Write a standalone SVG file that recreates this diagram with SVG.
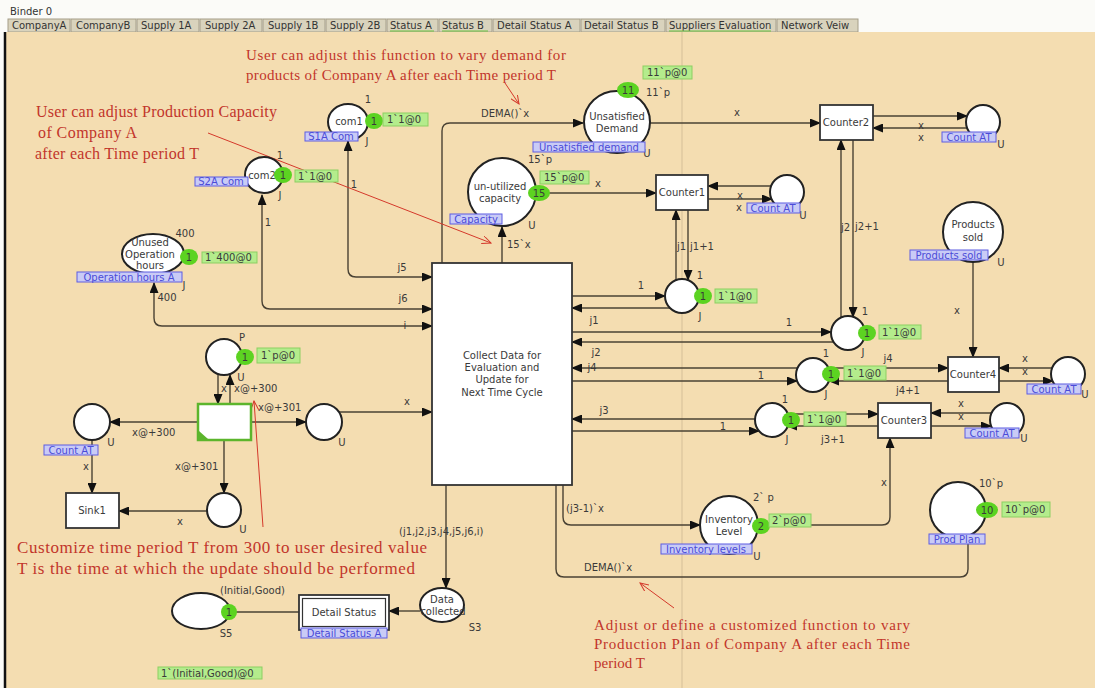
<svg xmlns="http://www.w3.org/2000/svg" width="1095" height="688" viewBox="0 0 1095 688">
<style>
.pl{fill:#fff;stroke:#222;stroke-width:2}
.tr{fill:#fff;stroke:#333;stroke-width:1.8}
.t{font-family:"DejaVu Sans",sans-serif;font-size:10px;fill:#3a3a3a}
.c{text-anchor:middle}
.arc{fill:none;stroke:#4a4234;stroke-width:1.4}
.mk{fill:#b4ec8c;stroke:#8ccf62;stroke-width:1}
.tok{fill:#5cd321}
.nmr{fill:#c9cbf6;stroke:#5d5de2;stroke-width:1}
.nm{font-family:"DejaVu Sans",sans-serif;font-size:10px;fill:#4b4bd8}
.ann{font-family:"Liberation Serif",serif;fill:#c2352b}
.red{fill:none;stroke:#d4392b;stroke-width:1}
.tab{fill:#d9d3bd;stroke:#a59e88;stroke-width:1}
.tabt{font-family:"DejaVu Sans",sans-serif;font-size:10px;fill:#333}
</style>
<defs>
<marker id="ah" markerUnits="userSpaceOnUse" markerWidth="11" markerHeight="9" refX="10" refY="4.5" orient="auto-start-reverse">
<path d="M0,0 L11,4.5 L0,9 z" fill="#111"/>
</marker>
<marker id="ra" markerUnits="userSpaceOnUse" markerWidth="10" markerHeight="8" refX="9" refY="4" orient="auto">
<path d="M0,0 L9,4 L0,8" fill="none" stroke="#d4392b" stroke-width="1"/>
</marker>
</defs>

<!-- window header and tab strip -->
<rect x="0" y="0" width="1095" height="688" fill="#fbfbf8"/>
<text x="10" y="15" class="tabt">Binder 0</text>
<g id="tabs">
<rect class="tab" x="8" y="19" width="62" height="13"/><text class="tabt" x="12" y="29">CompanyA</text>
<rect class="tab" x="71" y="19" width="65" height="13"/><text class="tabt" x="76" y="29">CompanyB</text>
<rect class="tab" x="137" y="19" width="62" height="13"/><text class="tabt" x="141" y="29">Supply 1A</text>
<rect class="tab" x="200" y="19" width="62" height="13"/><text class="tabt" x="205" y="29">Supply 2A</text>
<rect class="tab" x="263" y="19" width="62" height="13"/><text class="tabt" x="268" y="29">Supply 1B</text>
<rect class="tab" x="326" y="19" width="60" height="13"/><text class="tabt" x="330" y="29">Supply 2B</text>
<rect class="tab" x="387" y="19" width="51" height="13" fill="#e6e1cc"/><text class="tabt" x="390" y="29">Status A</text>
<rect class="tab" x="439" y="19" width="53" height="13"/><text class="tabt" x="442" y="29">Status B</text>
<rect class="tab" x="493" y="19" width="87" height="13"/><text class="tabt" x="497" y="29">Detail Status A</text>
<rect class="tab" x="581" y="19" width="84" height="13"/><text class="tabt" x="584" y="29">Detail Status B</text>
<rect class="tab" x="666" y="19" width="110" height="13"/><text class="tabt" x="669" y="29">Suppliers Evaluation</text>
<rect class="tab" x="777" y="19" width="81" height="13"/><text class="tabt" x="781" y="29">Network Veiw</text>
<path d="M390,31 H434 M442,31 H488 M669,31 H771" stroke="#6cc23a" stroke-width="1"/>
</g>

<!-- page canvas -->
<rect x="5" y="32" width="1090" height="656" fill="#f4ddb1"/>
<line x1="5" y1="32" x2="5" y2="688" stroke="#111" stroke-width="2.5"/>
<line x1="682" y1="32" x2="682" y2="688" stroke="#d5bf98" stroke-width="1"/>

<!-- arcs -->
<g id="connectors">
<path class="arc" d="M442,263 V131 Q442,123 450,123 H583" marker-end="url(#ah)"/>
<path class="arc" d="M502,263 V227" marker-end="url(#ah)"/>
<path class="arc" d="M536,193 H656" marker-end="url(#ah)"/>
<path class="arc" d="M650,123 H820" marker-end="url(#ah)"/>
<path class="arc" d="M708,199 H772" marker-end="url(#ah)"/>
<path class="arc" d="M772,186 H708" marker-end="url(#ah)"/>
<path class="arc" d="M873,116 H967" marker-end="url(#ah)"/>
<path class="arc" d="M967,128 H873" marker-end="url(#ah)"/>
<path class="arc" d="M688,210 V280" marker-end="url(#ah)"/>
<path class="arc" d="M676,281 V210" marker-end="url(#ah)"/>
<path class="arc" d="M853,140 V317" marker-end="url(#ah)"/>
<path class="arc" d="M841,318 V140" marker-end="url(#ah)"/>
<path class="arc" d="M572,296 H665" marker-end="url(#ah)"/>
<path class="arc" d="M670,308 H572" marker-end="url(#ah)"/>
<path class="arc" d="M572,332 H831" marker-end="url(#ah)"/>
<path class="arc" d="M834,342 H572" marker-end="url(#ah)"/>
<path class="arc" d="M797,368 H572" marker-end="url(#ah)"/>
<path class="arc" d="M829,368 H948" marker-end="url(#ah)"/>
<path class="arc" d="M572,381 H797" marker-end="url(#ah)"/>
<path class="arc" d="M948,381 H829" marker-end="url(#ah)"/>
<path class="arc" d="M755,419 H572" marker-end="url(#ah)"/>
<path class="arc" d="M572,431 H759" marker-end="url(#ah)"/>
<path class="arc" d="M788,414 H878" marker-end="url(#ah)"/>
<path class="arc" d="M878,426 H787" marker-end="url(#ah)"/>
<path class="arc" d="M973,262 V357" marker-end="url(#ah)"/>
<path class="arc" d="M1052,368 H999" marker-end="url(#ah)"/>
<path class="arc" d="M999,381 H1053" marker-end="url(#ah)"/>
<path class="arc" d="M991,413 H931" marker-end="url(#ah)"/>
<path class="arc" d="M931,426 H991" marker-end="url(#ah)"/>
<path class="arc" d="M758,525 H882 Q890,525 890,517 V438" marker-end="url(#ah)"/>
<path class="arc" d="M563,485 V517 Q563,525 571,525 H700" marker-end="url(#ah)"/>
<path class="arc" d="M968,536 V569 Q968,577 960,577 H564 Q556,577 556,569 V485"/>
<path class="arc" d="M446,485 V588" marker-end="url(#ah)"/>
<path class="arc" d="M420,611 H389" marker-end="url(#ah)"/>
<path class="arc" d="M230,612 H299"/>
<path class="arc" d="M432,277 H356 Q348,277 348,269 V141" marker-start="url(#ah)" marker-end="url(#ah)"/>
<path class="arc" d="M432,309 H270 Q262,309 262,301 V195" marker-start="url(#ah)" marker-end="url(#ah)"/>
<path class="arc" d="M432,326 H162 Q154,326 154,318 V283" marker-start="url(#ah)" marker-end="url(#ah)"/>
<path class="arc" d="M218,375 V404" marker-end="url(#ah)"/>
<path class="arc" d="M230,404 V375" marker-end="url(#ah)"/>
<path class="arc" d="M198,422 H110" marker-end="url(#ah)"/>
<path class="arc" d="M251,422 H306" marker-end="url(#ah)"/>
<path class="arc" d="M339,412 H432" marker-end="url(#ah)"/>
<path class="arc" d="M224,440 V493" marker-end="url(#ah)"/>
<path class="arc" d="M207,511 H119" marker-end="url(#ah)"/>
<path class="arc" d="M92,440 V493" marker-end="url(#ah)"/>

<!-- arc inscriptions -->
<text class="t" x="481" y="117">DEMA()`x</text>
<text class="t" x="507" y="248">15`x</text>
<text class="t c" x="598" y="187">x</text>
<text class="t c" x="737" y="116">x</text>
<text class="t c" x="740" y="199">x</text>
<text class="t c" x="739" y="211">x</text>
<text class="t c" x="921" y="129">x</text>
<text class="t c" x="921" y="141">x</text>
<text class="t" x="677" y="250">j1</text>
<text class="t" x="690" y="250">j1+1</text>
<text class="t" x="841" y="231">j2</text>
<text class="t" x="855" y="230">j2+1</text>
<text class="t c" x="641" y="289">1</text>
<text class="t c" x="594" y="324">j1</text>
<text class="t c" x="789" y="326">1</text>
<text class="t c" x="596" y="356">j2</text>
<text class="t c" x="592" y="371">j4</text>
<text class="t c" x="761" y="379">1</text>
<text class="t c" x="604" y="414">j3</text>
<text class="t c" x="723" y="430">1</text>
<text class="t c" x="888" y="362">j4</text>
<text class="t c" x="908" y="394">j4+1</text>
<text class="t c" x="833" y="443">j3+1</text>
<text class="t c" x="1025" y="362">x</text>
<text class="t c" x="1025" y="375">x</text>
<text class="t c" x="961" y="407">x</text>
<text class="t c" x="961" y="420">x</text>
<text class="t c" x="957" y="314">x</text>
<text class="t c" x="884" y="486">x</text>
<text class="t" x="566" y="512">(j3-1)`x</text>
<text class="t" x="584" y="571">DEMA()`x</text>
<text class="t" x="399" y="535">(j1,j2,j3,j4,j5,j6,i)</text>
<text class="t c" x="354" y="188">1</text>
<text class="t c" x="402" y="271">j5</text>
<text class="t c" x="268" y="226">1</text>
<text class="t c" x="403" y="302">j6</text>
<text class="t c" x="167" y="301">400</text>
<text class="t c" x="405" y="329">i</text>
<text class="t c" x="224" y="392">x</text>
<text class="t" x="234" y="392">x@+300</text>
<text class="t" x="132" y="436">x@+300</text>
<text class="t" x="258" y="411">x@+301</text>
<text class="t" x="175" y="470">x@+301</text>
<text class="t c" x="180" y="525">x</text>
<text class="t c" x="86" y="470">x</text>
<text class="t c" x="407" y="405">x</text>
</g>

<!-- notes -->
<g id="notes">
<text class="ann" font-size="15" x="246" y="60" textLength="320" lengthAdjust="spacing">User can adjust this function to vary demand for</text>
<text class="ann" font-size="15" x="246" y="80" textLength="310" lengthAdjust="spacing">products of Company A after each Time period T</text>
<line class="red" x1="505" y1="83" x2="519" y2="104" marker-end="url(#ra)"/>
<text class="ann" font-size="16" x="36" y="117" textLength="241" lengthAdjust="spacing">User can adjust Production Capacity</text>
<text class="ann" font-size="16" x="38" y="138" textLength="99" lengthAdjust="spacing">of Company A</text>
<text class="ann" font-size="16" x="35" y="159" textLength="164" lengthAdjust="spacing">after each Time period T</text>
<line class="red" x1="208" y1="133" x2="491" y2="243" marker-end="url(#ra)"/>
<text class="ann" font-size="17" x="17" y="553" textLength="410" lengthAdjust="spacing">Customize time period T from 300 to user desired value</text>
<text class="ann" font-size="17" x="17" y="574" textLength="398" lengthAdjust="spacing">T is the time at which the update should be performed</text>
<line class="red" x1="263" y1="527" x2="254" y2="401" marker-end="url(#ra)"/>
<text class="ann" font-size="15" x="594" y="630" textLength="316" lengthAdjust="spacing">Adjust or define a customized function to vary</text>
<text class="ann" font-size="15" x="594" y="649" textLength="316" lengthAdjust="spacing">Production Plan of Company A after each Time</text>
<text class="ann" font-size="15" x="594" y="668">period T</text>
<line class="red" x1="674" y1="608" x2="640" y2="583" marker-end="url(#ra)"/>
</g>

<!-- transitions -->
<g id="collect-data">
<rect class="tr" x="432" y="263" width="140" height="222"/>
<text class="t c" x="502" y="359">Collect Data for</text>
<text class="t c" x="502" y="371">Evaluation and</text>
<text class="t c" x="502" y="383">Update for</text>
<text class="t c" x="502" y="396">Next Time Cycle</text>
</g>
<g id="counter1"><rect class="tr" x="656" y="175" width="52" height="35"/><text class="t c" x="682" y="196">Counter1</text></g>
<g id="counter2"><rect class="tr" x="820" y="105" width="53" height="35"/><text class="t c" x="846" y="126">Counter2</text></g>
<g id="counter4"><rect class="tr" x="948" y="357" width="51" height="35"/><text class="t c" x="973" y="378">Counter4</text></g>
<g id="counter3"><rect class="tr" x="878" y="403" width="53" height="35"/><text class="t c" x="904" y="424">Counter3</text></g>
<g id="sink1"><rect class="tr" x="66" y="493" width="53" height="35"/><text class="t c" x="92" y="514">Sink1</text></g>
<g id="timer">
<rect x="198" y="404" width="53" height="36" fill="#fff" stroke="#5cb52c" stroke-width="2.5"/>
<path d="M199,431 L199,439 L208,439 z" fill="#5cb52c"/>
</g>
<g id="detail-status">
<rect class="tr" x="299" y="595" width="90" height="35"/>
<rect x="302.5" y="598.5" width="83" height="28" fill="none" stroke="#333" stroke-width="1.2"/>
<text class="t c" x="344" y="616">Detail Status</text>
<rect class="nmr" x="301" y="628" width="86" height="10"/><text class="nm c" x="344" y="637">Detail Status A</text>
</g>

<!-- places -->
<g id="com1">
<ellipse class="pl" cx="348" cy="122" rx="20" ry="18"/>
<text class="t c" x="349" y="125">com1</text>
<text class="t c" x="368" y="103">1</text>
<text class="t c" x="367" y="145">J</text>
<rect class="nmr" x="305" y="132" width="53" height="9"/><text class="nm c" x="331" y="140">S1A Com</text>
<ellipse class="tok" cx="374" cy="121" rx="9" ry="8"/><text class="t c" x="374" y="125">1</text>
<rect class="mk" x="383" y="113" width="45" height="13"/><text class="t" x="387" y="123">1`1@0</text>
</g>
<g id="com2">
<ellipse class="pl" cx="264" cy="175" rx="19" ry="18"/>
<text class="t c" x="262" y="179">com2</text>
<text class="t c" x="280" y="159">1</text>
<text class="t c" x="280" y="199">J</text>
<rect class="nmr" x="195" y="177" width="53" height="9"/><text class="nm c" x="221" y="185">S2A Com</text>
<ellipse class="tok" cx="283" cy="175" rx="9" ry="8"/><text class="t c" x="283" y="179">1</text>
<rect class="mk" x="295" y="170" width="43" height="12"/><text class="t" x="298" y="180">1`1@0</text>
</g>
<g id="unused-hours">
<ellipse class="pl" cx="153" cy="254" rx="31" ry="20"/>
<text class="t c" x="150" y="246">Unused</text>
<text class="t c" x="150" y="258">Operation</text>
<text class="t c" x="150" y="269" font-size="9">hours</text>
<text class="t c" x="185" y="237">400</text>
<text class="t c" x="184" y="289">J</text>
<rect class="nmr" x="77" y="272" width="105" height="10"/><text class="nm c" x="129" y="281">Operation hours A</text>
<ellipse class="tok" cx="189" cy="257" rx="9" ry="8"/><text class="t c" x="189" y="261">1</text>
<rect class="mk" x="202" y="252" width="55" height="11"/><text class="t" x="205" y="261">1`400@0</text>
</g>
<g id="unsatisfied-demand">
<ellipse class="pl" cx="617" cy="122" rx="33" ry="31"/>
<text class="t c" x="617" y="120">Unsatisfied</text>
<text class="t c" x="617" y="132">Demand</text>
<text class="t" x="646" y="96">11`p</text>
<text class="t c" x="647" y="157">U</text>
<rect class="nmr" x="533" y="142" width="112" height="10"/><text class="nm c" x="589" y="151">Unsatisfied demand</text>
<ellipse class="tok" cx="628" cy="90" rx="11" ry="8"/><text class="t c" x="628" y="94">11</text>
<rect class="mk" x="643" y="66" width="49" height="13"/><text class="t" x="647" y="76">11`p@0</text>
</g>
<g id="unutilized-capacity">
<circle class="pl" cx="502" cy="192" r="34"/>
<text class="t c" x="500" y="190">un-utilized</text>
<text class="t c" x="500" y="202">capacity</text>
<text class="t" x="528" y="163">15`p</text>
<text class="t c" x="532" y="229">U</text>
<rect class="nmr" x="450" y="214" width="52" height="10"/><text class="nm c" x="476" y="223">Capacity</text>
<ellipse class="tok" cx="539" cy="193" rx="11" ry="8"/><text class="t c" x="539" y="197">15</text>
<rect class="mk" x="540" y="171" width="49" height="13"/><text class="t" x="544" y="181">15`p@0</text>
</g>
<g id="count-at-1">
<circle class="pl" cx="787" cy="192" r="17"/>
<text class="t c" x="803" y="219">U</text>
<rect class="nmr" x="747" y="203" width="53" height="10"/><text class="nm c" x="773" y="212">Count AT</text>
</g>
<g id="count-at-2">
<circle class="pl" cx="983" cy="122" r="17"/>
<text class="t c" x="1001" y="148">U</text>
<rect class="nmr" x="942" y="132" width="54" height="10"/><text class="nm c" x="969" y="141">Count AT</text>
</g>
<g id="products-sold">
<circle class="pl" cx="973" cy="232" r="30"/>
<text class="t c" x="973" y="228">Products</text>
<text class="t c" x="973" y="241">sold</text>
<text class="t c" x="1001" y="266">U</text>
<rect class="nmr" x="910" y="250" width="78" height="10"/><text class="nm c" x="949" y="259">Products sold</text>
</g>
<g id="j1-place">
<circle class="pl" cx="682" cy="296" r="17"/>
<text class="t c" x="700" y="279">1</text>
<text class="t c" x="700" y="320">J</text>
<ellipse class="tok" cx="703" cy="296" rx="9" ry="8"/><text class="t c" x="703" y="300">1</text>
<rect class="mk" x="715" y="289" width="42" height="14"/><text class="t" x="718" y="300">1`1@0</text>
</g>
<g id="j2-place">
<circle class="pl" cx="848" cy="333" r="17"/>
<text class="t c" x="865" y="315">1</text>
<text class="t c" x="863" y="356">J</text>
<ellipse class="tok" cx="867" cy="333" rx="9" ry="8"/><text class="t c" x="867" y="337">1</text>
<rect class="mk" x="879" y="325" width="42" height="14"/><text class="t" x="882" y="336">1`1@0</text>
</g>
<g id="j4-place">
<circle class="pl" cx="813" cy="375" r="17"/>
<text class="t c" x="826" y="357">1</text>
<text class="t c" x="826" y="398">J</text>
<ellipse class="tok" cx="831" cy="374" rx="9" ry="8"/><text class="t c" x="831" y="378">1</text>
<rect class="mk" x="844" y="366" width="42" height="14"/><text class="t" x="847" y="377">1`1@0</text>
</g>
<g id="j3-place">
<circle class="pl" cx="772" cy="420" r="17"/>
<text class="t c" x="785" y="403">1</text>
<text class="t c" x="787" y="443">J</text>
<ellipse class="tok" cx="791" cy="420" rx="9" ry="8"/><text class="t c" x="791" y="424">1</text>
<rect class="mk" x="804" y="412" width="42" height="14"/><text class="t" x="807" y="423">1`1@0</text>
</g>
<g id="count-at-4">
<circle class="pl" cx="1068" cy="374" r="17"/>
<text class="t c" x="1085" y="398">U</text>
<rect class="nmr" x="1027" y="384" width="54" height="10"/><text class="nm c" x="1054" y="393">Count AT</text>
</g>
<g id="count-at-3">
<circle class="pl" cx="1007" cy="420" r="17"/>
<text class="t c" x="1024" y="442">U</text>
<rect class="nmr" x="965" y="428" width="54" height="10"/><text class="nm c" x="992" y="437">Count AT</text>
</g>
<g id="inventory-level">
<circle class="pl" cx="729" cy="525" r="29"/>
<text class="t c" x="729" y="523">Inventory</text>
<text class="t c" x="729" y="535">Level</text>
<text class="t" x="753" y="501">2` p</text>
<text class="t c" x="757" y="560">U</text>
<rect class="nmr" x="661" y="544" width="91" height="10"/><text class="nm c" x="706" y="553">Inventory levels</text>
<ellipse class="tok" cx="761" cy="526" rx="9" ry="8"/><text class="t c" x="761" y="530">2</text>
<rect class="mk" x="769" y="514" width="42" height="13"/><text class="t" x="772" y="524">2`p@0</text>
</g>
<g id="prod-plan">
<circle class="pl" cx="958" cy="510" r="28"/>
<text class="t" x="979" y="487">10`p</text>
<rect class="nmr" x="929" y="534" width="56" height="10"/><text class="nm c" x="957" y="543">Prod Plan</text>
<ellipse class="tok" cx="987" cy="510" rx="11" ry="8"/><text class="t c" x="987" y="514">10</text>
<rect class="mk" x="1002" y="502" width="48" height="15"/><text class="t" x="1005" y="513">10`p@0</text>
</g>
<g id="p-place">
<circle class="pl" cx="224" cy="357" r="18"/>
<text class="t c" x="242" y="341">P</text>
<text class="t c" x="241" y="381">U</text>
<ellipse class="tok" cx="245" cy="357" rx="9" ry="8"/><text class="t c" x="245" y="361">1</text>
<rect class="mk" x="257" y="348" width="43" height="15"/><text class="t" x="261" y="359">1`p@0</text>
</g>
<g id="count-at-left">
<circle class="pl" cx="92" cy="422" r="18"/>
<text class="t c" x="111" y="446">U</text>
<rect class="nmr" x="44" y="445" width="54" height="10"/><text class="nm c" x="71" y="454">Count AT</text>
</g>
<g id="out-place">
<circle class="pl" cx="324" cy="422" r="18"/>
<text class="t c" x="342" y="446">U</text>
</g>
<g id="delay-place">
<circle class="pl" cx="224" cy="510" r="17"/>
<text class="t c" x="243" y="533">U</text>
</g>
<g id="data-collected">
<ellipse class="pl" cx="442" cy="605" rx="22" ry="17"/>
<text class="t c" x="442" y="603">Data</text>
<text class="t c" x="443" y="615">collected</text>
<text class="t c" x="475" y="631">S3</text>
</g>
<g id="s5-place">
<ellipse class="pl" cx="201" cy="611" rx="29" ry="18"/>
<text class="t" x="220" y="594">(Initial,Good)</text>
<text class="t c" x="226" y="637">S5</text>
<ellipse class="tok" cx="229" cy="612" rx="8" ry="8"/><text class="t c" x="229" y="616">1</text>
<rect class="mk" x="158" y="667" width="104" height="12"/><text class="t" x="161" y="677">1`(Initial,Good)@0</text>
</g>
</svg>
